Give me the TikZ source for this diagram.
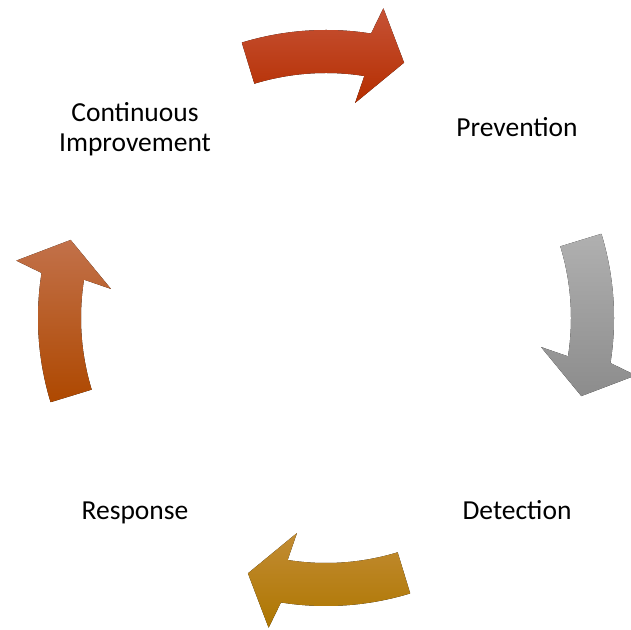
\documentclass[tikz,border=0pt]{standalone}
\usepackage{fontspec}
\setmainfont{Carlito}
\usepackage{tikz}
\usetikzlibrary{positioning, calc}
\definecolor{redT}{HTML}{C65236}
\definecolor{redB}{HTML}{B52E00}
\definecolor{grayT}{HTML}{B0B0B0}
\definecolor{grayB}{HTML}{8C8C8C}
\definecolor{goldT}{HTML}{C28C34}
\definecolor{goldB}{HTML}{AE7600}
\definecolor{rustT}{HTML}{C2714A}
\definecolor{rustB}{HTML}{AE4800}
% curved block arrow, clockwise, tail at angle #1
\newcommand{\cycarrow}[3]{%
	\fill[top color=#2,bottom color=#3,shift={(C)}]
	(#1:288) arc[start angle=#1, end angle=#1-26, radius=288]
	-- (#1-27.5:315) -- (#1-34:267) -- (#1-24.7:217) -- (#1-26:245)
	arc[start angle=#1-26, end angle=#1, radius=245] -- cycle;}
\tikzset{steplabel/.style={font=\fontsize{27.5pt}{30pt}\selectfont, align=center, inner sep=0pt}}
\begin{document}
\begin{tikzpicture}[x=1pt,y=1pt]
			\useasboundingbox (0,0) rectangle (631,629);
			\coordinate (C) at (326,311);
			% arrows of the cycle
			\cycarrow{107}{redT}{redB}
			\cycarrow{17}{grayT}{grayB}
			\cycarrow{-73}{goldT}{goldB}
			\cycarrow{-163}{rustT}{rustB}
			% labels
			\node[steplabel] (prev) at (517,502) {Prevention};
			\node[steplabel] (det) at (517,119) {Detection};
			\node[steplabel] (resp) at (135,116) {Response};
			\node[steplabel] (impr) at (135,500) {Continuous\\Improvement};
\end{tikzpicture}
\end{document}
